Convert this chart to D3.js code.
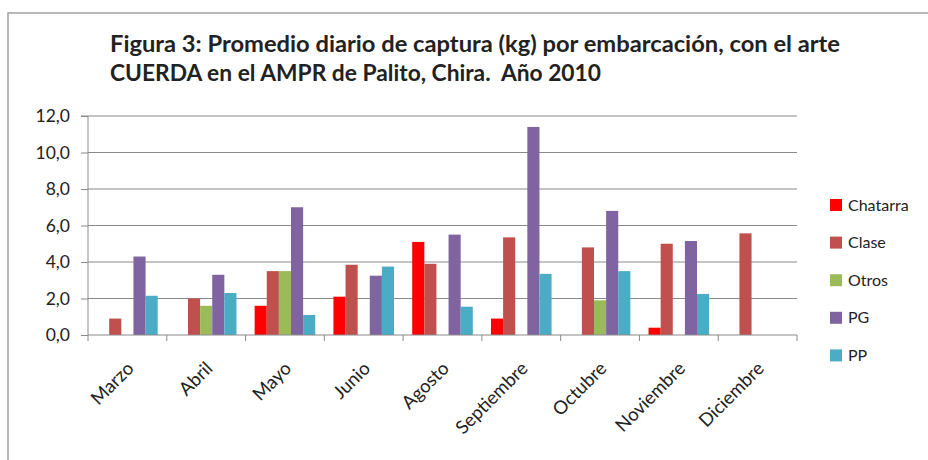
<!DOCTYPE html>
<html>
<head>
<meta charset="utf-8">
<script src="https://cdn.jsdelivr.net/npm/d3@7"></script>
<style>
  html, body { margin: 0; padding: 0; background: #fff; }
  svg { display: block; }
  text { font-family: Lato, "Open Sans", sans-serif; fill: #222; }
</style>
</head>
<body>
<svg id="chart" width="928" height="460"></svg>
<script>
const months = ["Marzo", "Abril", "Mayo", "Junio", "Agosto", "Septiembre", "Octubre", "Noviembre", "Diciembre"];
const seriesNames = ["Chatarra", "Clase", "Otros", "PG", "PP"];
const chatarra = [0, 0, 1.6, 2.1, 5.1, 0.9, 0, 0.4, 0];
const clase    = [0.9, 2.0, 3.5, 3.85, 3.9, 5.35, 4.8, 5.0, 5.57];
const otros    = [0, 1.6, 3.5, 0, 0, 0, 1.9, 0, 0];
const pg       = [4.3, 3.3, 7.0, 3.25, 5.5, 11.4, 6.8, 5.15, 0];
const pp       = [2.15, 2.3, 1.1, 3.75, 1.55, 3.35, 3.5, 2.25, 0];
const yTicks = [0, 2, 4, 6, 8, 10, 12];
const titleLines = ["Figura 3: Promedio diario de captura (kg) por embarcación, con el arte",
                    "CUERDA en el AMPR de Palito, Chira.  Año 2010"];
const colors = ["#FF0000", "#C0504D", "#9BBB59", "#8064A2", "#4BACC6"];

const values = [chatarra, clase, otros, pg, pp];
const svg = d3.select("#chart");

// outer frame
svg.append("rect").attr("x", 8).attr("y", 13).attr("width", 940).attr("height", 470)
  .attr("fill", "none").attr("stroke", "#a0a0a0").attr("stroke-width", 1.5);

// title
const titleWidths = [730, 491];
svg.append("g").selectAll("text").data(titleLines).join("text")
  .attr("x", 110).attr("y", (d, i) => 52 + i * 29)
  .attr("font-size", 22).attr("font-weight", 700)
  .attr("textLength", (d, i) => titleWidths[i]).attr("lengthAdjust", "spacingAndGlyphs")
  .style("white-space", "pre")
  .text(d => d);

const pLeft = 88, pRight = 797, pTop = 116, pBottom = 335;
const x0 = d3.scaleBand().domain(months).range([pLeft, pRight]).paddingInner(0).paddingOuter(0);
const bw = x0.bandwidth() / 6.5;
const x1 = d3.scaleBand().domain(seriesNames).range([0.75 * bw, 0.75 * bw + 5 * bw]);
const y = d3.scaleLinear().domain([0, 12]).range([pBottom, pTop]);

// gridlines
svg.append("g").selectAll("line").data(yTicks.filter(t => t > 0)).join("line")
  .attr("x1", pLeft).attr("x2", pRight).attr("y1", d => y(d)).attr("y2", d => y(d))
  .attr("stroke", "#8a8a8a").attr("stroke-width", 1);

// y axis
const yAxis = d3.axisLeft(y).tickValues(yTicks).tickSize(7).tickPadding(11)
  .tickFormat(d => d3.format(".1f")(d).replace(".", ","));
const gy = svg.append("g").attr("transform", `translate(${pLeft},0)`).call(yAxis);
gy.select(".domain").attr("stroke", "#8a8a8a").attr("d", `M-7,${pTop}H0V${pBottom}`);
gy.selectAll(".tick line").attr("stroke", "#8a8a8a");
gy.selectAll(".tick text").attr("font-size", 17.5).attr("fill", "#222").attr("font-family", "Lato, sans-serif");

// bars
const groups = svg.append("g").selectAll("g").data(seriesNames).join("g")
  .attr("fill", (d, i) => colors[i]);
groups.selectAll("rect").data((s, si) => months.map((m, mi) => ({ m, s, v: values[si][mi] })))
  .join("rect")
  .attr("x", d => x0(d.m) + x1(d.s))
  .attr("width", x1.bandwidth())
  .attr("y", d => y(d.v))
  .attr("height", d => y(0) - y(d.v));

// x axis
const xAxisG = svg.append("g").attr("transform", `translate(0,${pBottom})`);
xAxisG.append("line").attr("x1", pLeft).attr("x2", pRight).attr("stroke", "#8a8a8a");
const bounds = months.map(m => x0(m)).concat([pRight]);
xAxisG.selectAll("line.tk").data(bounds).join("line").attr("class", "tk")
  .attr("x1", d => d).attr("x2", d => d).attr("y1", 0).attr("y2", 6).attr("stroke", "#8a8a8a");
xAxisG.selectAll("text").data(months).join("text")
  .attr("transform", d => `translate(${x0(d) + x0.bandwidth() / 2 + 3},${30}) rotate(-45)`)
  .attr("text-anchor", "end").attr("dy", "0.35em")
  .attr("font-size", 18.5)
  .text(d => d);

// legend
const lg = svg.append("g").selectAll("g").data(seriesNames).join("g")
  .attr("transform", (d, i) => `translate(830,${205 + i * 37.6})`);
lg.append("rect").attr("x", 0).attr("y", -6).attr("width", 12).attr("height", 12)
  .attr("fill", (d, i) => colors[i]);
lg.append("text").attr("x", 18).attr("dy", "0.35em").attr("font-size", 16).text(d => d);
</script>
</body>
</html>
